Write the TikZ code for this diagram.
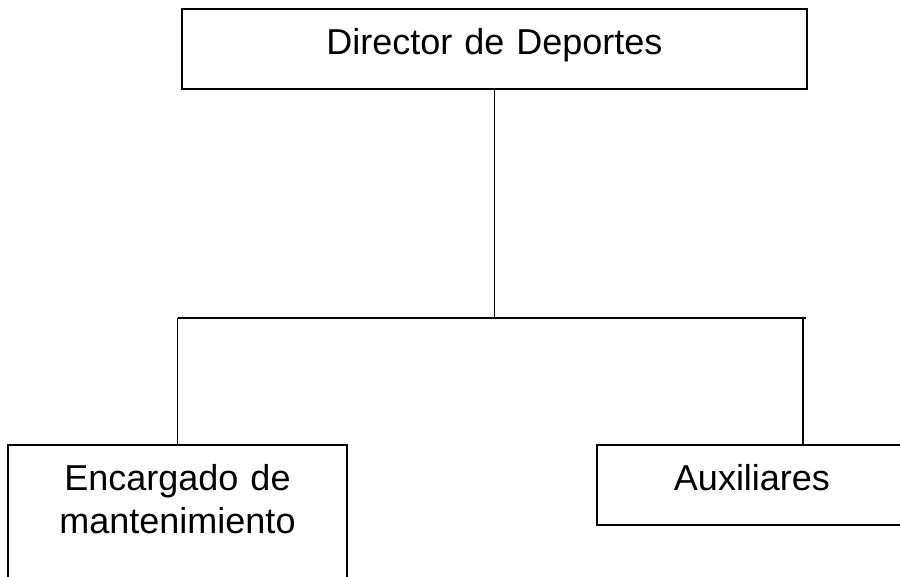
\documentclass[tikz,border=0pt]{standalone}
\usepackage{fontspec}
\setmainfont{Liberation Sans}
\newcommand{\boxfont}{\fontsize{36}{43}\selectfont}
\tikzset{every path/.style={line width=1.9pt}}
\tikzset{cargo/.style={draw, inner sep=0pt, align=center, font=\boxfont, text height=46pt, text depth=34pt}}

\begin{document}
\begin{tikzpicture}[x=1pt,y=-1pt]
\useasboundingbox (0,0) rectangle (900,576);

%boxes
\node[cargo, anchor=north, text width=625pt] (director) at (494.5,8) {Director de Deportes};
\node[cargo, anchor=north, text width=339pt, text depth=150pt] (encargado) at (177.5,444) {Encargado de\\mantenimiento};
\node[cargo, anchor=north, text width=310pt] (auxiliares) at (752,444) {Auxiliares};

%lines
\coordinate (bus) at (0,318);
\coordinate (busend) at (806,318);
\coordinate (drop) at (803,318);
\draw (director.south) -- (director.south |- bus);
\draw (encargado.north |- bus) -- (busend);
\draw (encargado.north |- bus) -- (encargado.north);
\draw (drop) -- (drop |- auxiliares.north);
\end{tikzpicture}
\end{document}
